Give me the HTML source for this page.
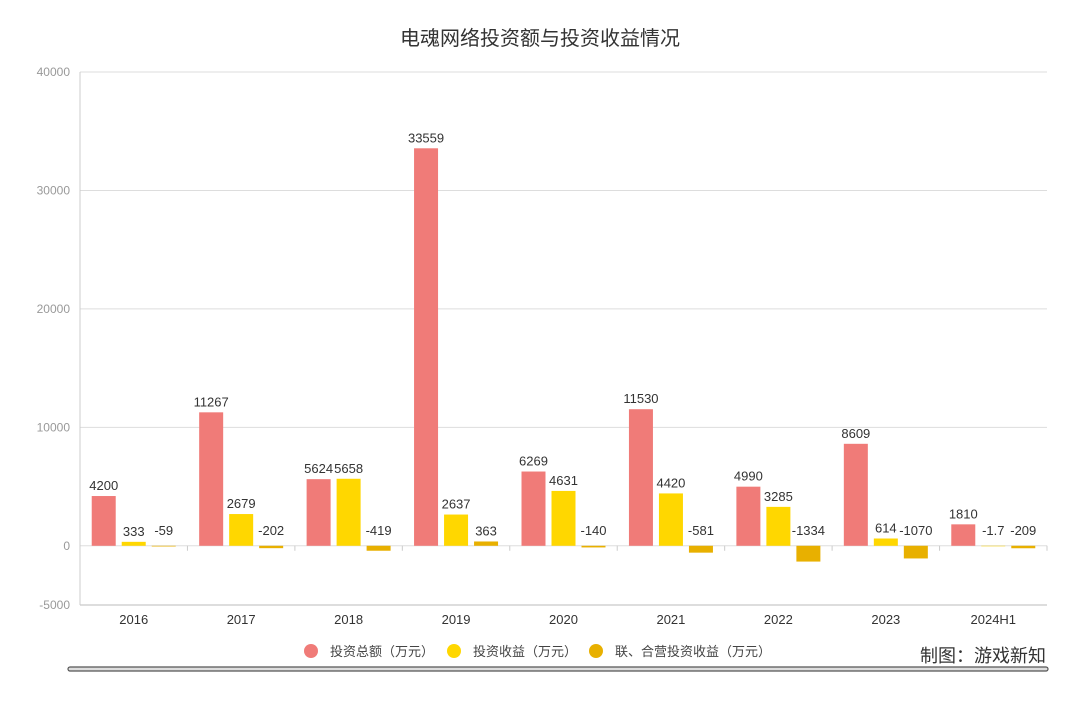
<!DOCTYPE html>
<html><head><meta charset="utf-8"><style>
body{margin:0;background:#fff;width:1080px;height:698px;overflow:hidden;font-family:"Liberation Sans","Noto Sans CJK SC",sans-serif}
</style></head><body>
<svg id="c" width="1080" height="698" xmlns="http://www.w3.org/2000/svg" font-family="Liberation Sans, Noto Sans CJK SC, sans-serif">
<text x="540" y="45" text-anchor="middle" font-size="20" fill="#333">电魂网络投资额与投资收益情况</text>
<g id="grid"></g><g id="bars"></g>
<g font-size="13" fill="#444">
<circle cx="311" cy="651" r="7" fill="#f07b78"/><text x="330" y="656">投资总额（万元）</text>
<circle cx="454" cy="651" r="7" fill="#ffd700"/><text x="473" y="656">投资收益（万元）</text>
<circle cx="596" cy="651" r="7" fill="#e8b000"/><text x="615" y="656">联、合营投资收益（万元）</text>
</g>
<rect x="68" y="667" width="980" height="4" rx="2" fill="#ddd" stroke="#555" stroke-width="1.2"/>
<text x="1046" y="662" text-anchor="end" font-size="18" fill="#333">制图：游戏新知</text>
</svg>
<script>
const categories=["2016","2017","2018","2019","2020","2021","2022","2023","2024H1"];
const totalInv=[4200,11267,5624,33559,6269,11530,4990,8609,1810];
const invIncome=[333,2679,5658,2637,4631,4420,3285,614,-1.7];
const jvIncome=[-59,-202,-419,363,-140,-581,-1334,-1070,-209];
const yTicks=[-5000,0,10000,20000,30000,40000];
const NS="http://www.w3.org/2000/svg";
const L=80,R=1047,T=72,B=605,ymin=-5000,ymax=40000;
const y=v=>B-(v-ymin)/(ymax-ymin)*(B-T);
const bw=(R-L)/categories.length;
const xc=i=>L+bw*(i+0.5);
function mk(tag,attrs,parent){const e=document.createElementNS(NS,tag);for(const k in attrs)e.setAttribute(k,attrs[k]);parent.appendChild(e);return e;}
const g=document.getElementById('grid'),bg=document.getElementById('bars');
yTicks.forEach(t=>{
 const l=mk('line',{x1:L,x2:R,y1:y(t),y2:y(t),stroke:t===ymin?'#bbb':'#ddd','stroke-width':1},g);
 
 
 const tx=mk('text',{x:L-10,y:y(t)+4,'text-anchor':'end','font-size':12,fill:'#999'},g);tx.textContent=t;
 
 
});
const ax=mk('line',{x1:L,x2:L,y1:T,y2:B,stroke:'#ccc'},g);


categories.forEach((c,i)=>{
 const tk=mk('line',{x1:L+bw*(i+1),x2:L+bw*(i+1),y1:y(0),y2:y(0)+5,stroke:'#ccc'},g);
 
 
 const tx=mk('text',{x:xc(i),y:624,'text-anchor':'middle','font-size':13,fill:'#333'},g);tx.textContent=c;
 
 
});
const series=[[totalInv,'#f07b78',-30,'total'],[invIncome,'#ffd700',0,'income'],[jvIncome,'#e8b000',30,'jv']];
series.forEach(([vals,col,off,nm])=>{
 vals.forEach((v,i)=>{
  const cx=xc(i)+off,y0=y(0),yv=y(v);
  const r=mk('rect',{x:cx-12,width:24,y:Math.min(y0,yv),height:Math.max(Math.abs(yv-y0),0.5),fill:col},bg);
  
  
  const ly=v>=0?yv-6:y0-11;
  const tx=mk('text',{x:cx,y:ly,'text-anchor':'middle','font-size':13,fill:'#333'},bg);tx.textContent=v;
  
  
 });
});
</script>
</body></html>
